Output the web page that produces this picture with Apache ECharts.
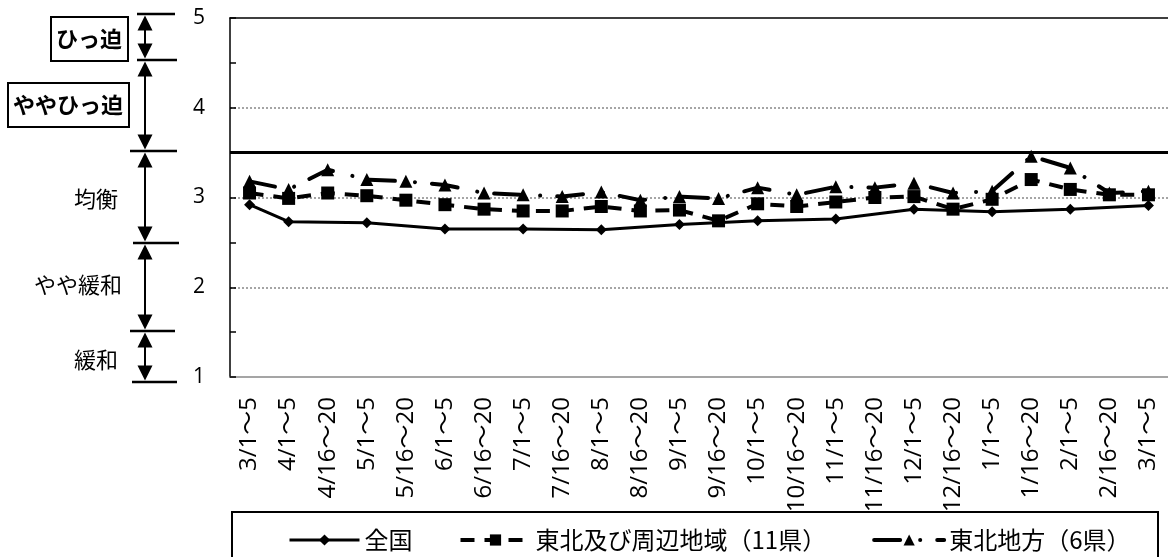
<!DOCTYPE html>
<html><head><meta charset="utf-8">
<script src="https://cdn.jsdelivr.net/npm/echarts@6/dist/echarts.min.js"></script>
<style>html,body{margin:0;padding:0;background:#fff}#c{width:1168px;height:557px}</style>
</head><body><div id="c"></div>
<script>
const categories = ['3/1～5','4/1～5','4/16～20','5/1～5','5/16～20','6/1～5','6/16～20','7/1～5','7/16～20','8/1～5','8/16～20','9/1～5','9/16～20','10/1～5','10/16～20','11/1～5','11/16～20','12/1～5','12/16～20','1/1～5','1/16～20','2/1～5','2/16～20','3/1～5'];
const zenkoku = [2.92, 2.73, null, 2.72, null, 2.65, null, 2.65, null, 2.64, null, 2.70, null, 2.74, null, 2.76, null, 2.87, null, 2.84, null, 2.87, null, 2.91];
const tohokuShuhen = [3.05, 2.99, 3.05, 3.02, 2.97, 2.92, 2.87, 2.85, 2.85, 2.90, 2.85, 2.86, 2.74, 2.93, 2.90, 2.95, 3.00, 3.01, 2.87, 2.98, 3.20, 3.09, 3.03, 3.03];
const tohoku = [3.18, 3.09, 3.31, 3.20, 3.18, 3.14, 3.05, 3.03, 3.01, 3.06, 2.97, 3.01, 2.99, 3.11, 3.03, 3.12, 3.11, 3.16, 3.05, 3.07, 3.46, 3.33, 3.05, 3.07];
const seriesNames = ['全国', '東北及び周辺地域（11県）', '東北地方（6県）'];
const balanceLine = 3.5;
const levelNames = ['ひっ迫', 'ややひっ迫', '均衡', 'やや緩和', '緩和'];

const JP = '"Noto Sans CJK JP", sans-serif';
const NUM = '"Open Sans", "Noto Sans CJK JP", sans-serif';

const dashShuhen = [14, 10];
const dashTohoku = [26, 20, 0.1, 17];

const g = [];
const hl = [[14,137,175],[60,137,177],[151,130,177],[243,133,179],[331,130,175],[382,132,177]];
hl.forEach(([y,x1,x2]) => g.push({type:'line', shape:{x1:x1,y1:y,x2:x2,y2:y}, style:{stroke:'#000', lineWidth:2.5}}));
const ax = 145;
for (let i = 0; i < hl.length - 1; i++) {
  const y1 = hl[i][0] + 1.5, y2 = hl[i+1][0] - 1.5;
  g.push({type:'line', shape:{x1:ax,y1:y1+10,x2:ax,y2:y2-10}, style:{stroke:'#000', lineWidth:2}});
  g.push({type:'polygon', shape:{points:[[ax,y1],[ax-7.5,y1+15],[ax+7.5,y1+15]]}, style:{fill:'#000'}});
  g.push({type:'polygon', shape:{points:[[ax,y2],[ax-7.5,y2-15],[ax+7.5,y2-15]]}, style:{fill:'#000'}});
}
g.push({type:'rect', shape:{x:51,y:17,width:77,height:44}, style:{fill:'#fff', stroke:'#000', lineWidth:2}});
g.push({type:'rect', shape:{x:8,y:83,width:121,height:44}, style:{fill:'#fff', stroke:'#000', lineWidth:2}});
const txt = [[levelNames[0],89,39,'bold'],[levelNames[1],68,105,'bold'],[levelNames[2],96,199,'normal'],[levelNames[3],78,285,'normal'],[levelNames[4],96,360,'normal']];
txt.forEach(([t,x,y,w]) => g.push({type:'text', style:{text:t, x:x, y:y, align:'center', verticalAlign:'middle', fontSize:22, fontWeight:w, fontFamily:JP, fill:'#000'}}));
g.push({type:'rect', shape:{x:232,y:512,width:926,height:60}, style:{fill:'none', stroke:'#000', lineWidth:2}});

const chart = echarts.init(document.getElementById('c'), null, {renderer:'canvas'});
chart.setOption({
  animation:false,
  backgroundColor:'#fff',
  grid:{left:230, right:0, top:18, bottom:180, containLabel:false, outerBoundsMode:'none'},
  graphic:g,
  legend:{
    left:283, top:523, itemWidth:70, itemHeight:14, itemGap:46,
    textStyle:{fontSize:24, color:'#000', fontFamily:JP},
    data:[
      {name:seriesNames[0], lineStyle:{width:3, color:'#000'}},
      {name:seriesNames[1], lineStyle:{width:4, color:'#000', type:dashShuhen}},
      {name:seriesNames[2], lineStyle:{width:4, color:'#000', type:dashTohoku, cap:'round'}}
    ]
  },
  xAxis:[{
    type:'category', data:categories, boundaryGap:true,
    axisLine:{lineStyle:{color:'#888', width:1.5}},
    axisTick:{inside:true, length:6, lineStyle:{color:'#888', width:1.5}},
    axisLabel:{rotate:90, interval:0, margin:20, fontSize:24, color:'#000', fontFamily:NUM},
    splitLine:{show:false}
  },{
    type:'category', data:categories, position:'top', boundaryGap:true,
    axisLine:{lineStyle:{color:'#000', width:1.5}},
    axisTick:{show:false}, axisLabel:{show:false}, splitLine:{show:false}
  }],
  yAxis:{
    type:'value', min:1, max:5, interval:1,
    axisLine:{show:true, lineStyle:{color:'#000', width:1.5}},
    axisTick:{show:true, inside:true, length:6, lineStyle:{color:'#000', width:1.5}},
    minorTick:{show:true, splitNumber:2, length:6, lineStyle:{color:'#000', width:1.5}},
    axisLabel:{fontSize:21, margin:25, color:'#000', fontFamily:NUM},
    splitLine:{show:true, showMinLine:false, showMaxLine:false, lineStyle:{color:'#888', width:1.5, type:[2,2]}}
  },
  series:[
    {name:seriesNames[0], type:'line', data:zenkoku, connectNulls:true,
     symbol:'diamond', symbolSize:11, itemStyle:{color:'#000'},
     lineStyle:{color:'#000', width:3},
     markLine:{silent:true, symbol:['none','none'], label:{show:false},
       lineStyle:{color:'#000', width:3, type:'solid'}, data:[{yAxis:balanceLine}]}},
    {name:seriesNames[1], type:'line', data:tohokuShuhen,
     symbol:'rect', symbolSize:13, itemStyle:{color:'#000'},
     lineStyle:{color:'#000', width:4, type:dashShuhen}},
    {name:seriesNames[2], type:'line', data:tohoku,
     symbol:'triangle', symbolSize:13, itemStyle:{color:'#000'},
     lineStyle:{color:'#000', width:4, type:dashTohoku, cap:'round'}}
  ]
});
</script></body></html>
